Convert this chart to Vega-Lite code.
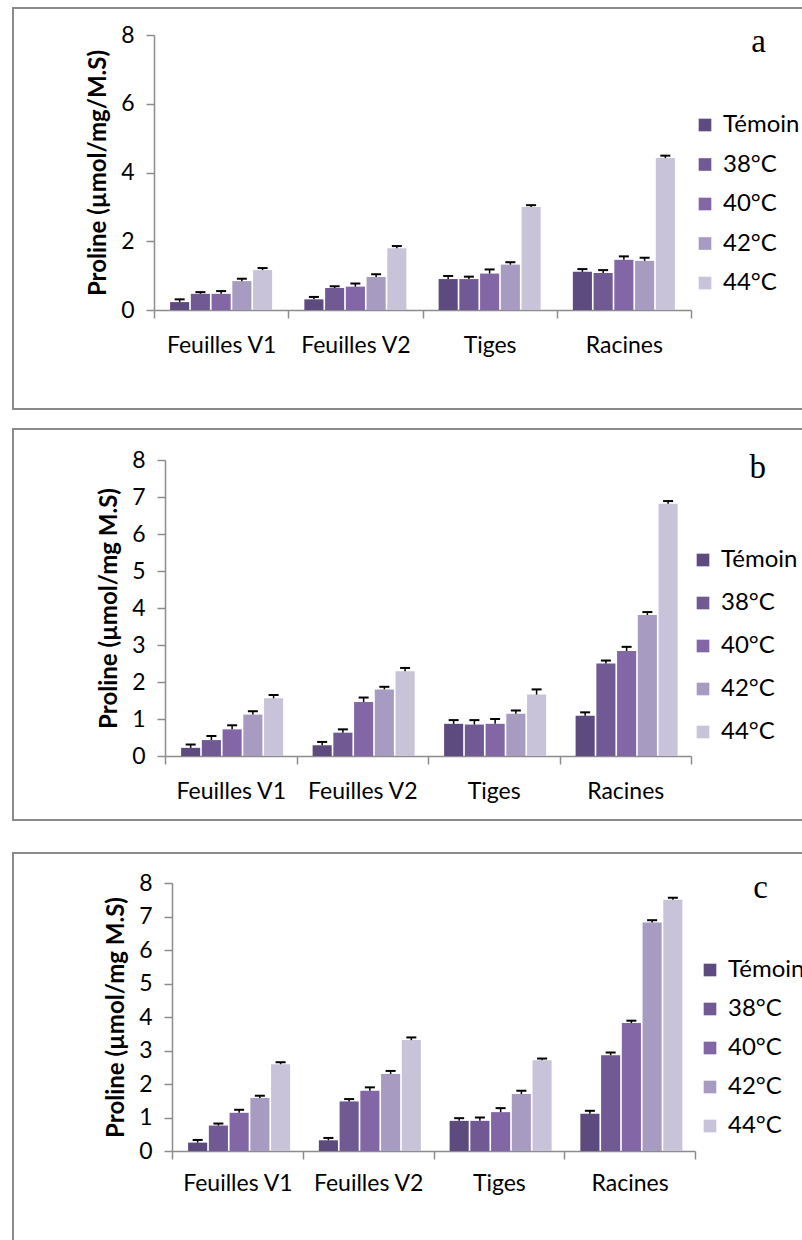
{
  "$schema": "https://vega.github.io/schema/vega-lite/v6.json",
  "padding": {"left": 12, "top": 7, "right": 0, "bottom": 0},
  "background": "white",
  "spacing": 18,
  "resolve": {"scale": {"color": "independent"}, "legend": {"color": "independent"}},
  "config": {
    "view": {"stroke": "#8a8a8a", "strokeWidth": 2},
    "font": "Lato",
    "axis": {
      "domainColor": "#8c8c8c", "domainWidth": 1.5,
      "tickColor": "#8c8c8c", "tickWidth": 1.5, "tickSize": 8,
      "labelFont": "Lato", "labelFontSize": 23, "labelColor": "black",
      "titleFont": "Lato", "titleFontSize": 24, "titleFontWeight": "bold", "titleColor": "black",
      "grid": false
    },
    "legend": {
      "orient": "none", "title": null, "symbolType": "square", "symbolSize": 160,
      "symbolStrokeWidth": 0, "labelFont": "Lato", "labelFontSize": 24, "labelColor": "black",
      "labelOffset": 6, "padding": 0
    },
    "title": {"font": "Liberation Serif", "fontSize": 33, "fontWeight": "normal", "color": "black", "anchor": "end", "frame": "group", "offset": 0, "baseline": "alphabetic"}
  },
  "datasets": {
    "a": [
      {"organ": "Feuilles V1", "temp": "Témoin", "value": 0.23, "upper": 0.31},
      {"organ": "Feuilles V1", "temp": "38°C", "value": 0.47, "upper": 0.52},
      {"organ": "Feuilles V1", "temp": "40°C", "value": 0.47, "upper": 0.55},
      {"organ": "Feuilles V1", "temp": "42°C", "value": 0.84, "upper": 0.91},
      {"organ": "Feuilles V1", "temp": "44°C", "value": 1.16, "upper": 1.22},
      {"organ": "Feuilles V2", "temp": "Témoin", "value": 0.31, "upper": 0.38},
      {"organ": "Feuilles V2", "temp": "38°C", "value": 0.64, "upper": 0.69},
      {"organ": "Feuilles V2", "temp": "40°C", "value": 0.68, "upper": 0.77},
      {"organ": "Feuilles V2", "temp": "42°C", "value": 0.96, "upper": 1.04},
      {"organ": "Feuilles V2", "temp": "44°C", "value": 1.80, "upper": 1.86},
      {"organ": "Tiges", "temp": "Témoin", "value": 0.90, "upper": 0.99},
      {"organ": "Tiges", "temp": "38°C", "value": 0.90, "upper": 0.97},
      {"organ": "Tiges", "temp": "40°C", "value": 1.06, "upper": 1.18},
      {"organ": "Tiges", "temp": "42°C", "value": 1.32, "upper": 1.39},
      {"organ": "Tiges", "temp": "44°C", "value": 3.00, "upper": 3.05},
      {"organ": "Racines", "temp": "Témoin", "value": 1.11, "upper": 1.19},
      {"organ": "Racines", "temp": "38°C", "value": 1.08, "upper": 1.16},
      {"organ": "Racines", "temp": "40°C", "value": 1.46, "upper": 1.56},
      {"organ": "Racines", "temp": "42°C", "value": 1.43, "upper": 1.52},
      {"organ": "Racines", "temp": "44°C", "value": 4.42, "upper": 4.49}
    ],
    "b": [
      {"organ": "Feuilles V1", "temp": "Témoin", "value": 0.22, "upper": 0.31},
      {"organ": "Feuilles V1", "temp": "38°C", "value": 0.43, "upper": 0.54},
      {"organ": "Feuilles V1", "temp": "40°C", "value": 0.72, "upper": 0.83},
      {"organ": "Feuilles V1", "temp": "42°C", "value": 1.12, "upper": 1.21},
      {"organ": "Feuilles V1", "temp": "44°C", "value": 1.56, "upper": 1.65},
      {"organ": "Feuilles V2", "temp": "Témoin", "value": 0.29, "upper": 0.38},
      {"organ": "Feuilles V2", "temp": "38°C", "value": 0.63, "upper": 0.72},
      {"organ": "Feuilles V2", "temp": "40°C", "value": 1.46, "upper": 1.58},
      {"organ": "Feuilles V2", "temp": "42°C", "value": 1.80, "upper": 1.87},
      {"organ": "Feuilles V2", "temp": "44°C", "value": 2.29, "upper": 2.38},
      {"organ": "Tiges", "temp": "Témoin", "value": 0.87, "upper": 0.97},
      {"organ": "Tiges", "temp": "38°C", "value": 0.85, "upper": 0.97},
      {"organ": "Tiges", "temp": "40°C", "value": 0.87, "upper": 1.00},
      {"organ": "Tiges", "temp": "42°C", "value": 1.14, "upper": 1.23},
      {"organ": "Tiges", "temp": "44°C", "value": 1.66, "upper": 1.80},
      {"organ": "Racines", "temp": "Témoin", "value": 1.09, "upper": 1.18},
      {"organ": "Racines", "temp": "38°C", "value": 2.50, "upper": 2.58},
      {"organ": "Racines", "temp": "40°C", "value": 2.84, "upper": 2.95},
      {"organ": "Racines", "temp": "42°C", "value": 3.81, "upper": 3.89},
      {"organ": "Racines", "temp": "44°C", "value": 6.82, "upper": 6.89}
    ],
    "c": [
      {"organ": "Feuilles V1", "temp": "Témoin", "value": 0.25, "upper": 0.33},
      {"organ": "Feuilles V1", "temp": "38°C", "value": 0.76, "upper": 0.82},
      {"organ": "Feuilles V1", "temp": "40°C", "value": 1.14, "upper": 1.23},
      {"organ": "Feuilles V1", "temp": "42°C", "value": 1.58, "upper": 1.65},
      {"organ": "Feuilles V1", "temp": "44°C", "value": 2.59, "upper": 2.65},
      {"organ": "Feuilles V2", "temp": "Témoin", "value": 0.32, "upper": 0.39},
      {"organ": "Feuilles V2", "temp": "38°C", "value": 1.48, "upper": 1.55},
      {"organ": "Feuilles V2", "temp": "40°C", "value": 1.80, "upper": 1.90},
      {"organ": "Feuilles V2", "temp": "42°C", "value": 2.30, "upper": 2.39},
      {"organ": "Feuilles V2", "temp": "44°C", "value": 3.31, "upper": 3.39},
      {"organ": "Tiges", "temp": "Témoin", "value": 0.90, "upper": 0.98},
      {"organ": "Tiges", "temp": "38°C", "value": 0.90, "upper": 1.00},
      {"organ": "Tiges", "temp": "40°C", "value": 1.16, "upper": 1.28},
      {"organ": "Tiges", "temp": "42°C", "value": 1.70, "upper": 1.80},
      {"organ": "Tiges", "temp": "44°C", "value": 2.71, "upper": 2.76},
      {"organ": "Racines", "temp": "Témoin", "value": 1.11, "upper": 1.20},
      {"organ": "Racines", "temp": "38°C", "value": 2.86, "upper": 2.94},
      {"organ": "Racines", "temp": "40°C", "value": 3.82, "upper": 3.89},
      {"organ": "Racines", "temp": "42°C", "value": 6.82, "upper": 6.89},
      {"organ": "Racines", "temp": "44°C", "value": 7.50, "upper": 7.56}
    ]
  },
  "vconcat": [
    {
      "width": 792, "height": 401,
      "title": {"text": "a", "dx": -39, "dy": 55},
      "data": {"name": "a"},
      "encoding": {
        "x": {"field": "organ", "type": "nominal", "sort": ["Feuilles V1", "Feuilles V2", "Tiges", "Racines"],
          "scale": {"range": [141, 678], "paddingInner": 0, "paddingOuter": 0},
          "axis": {"title": null, "offset": -99, "tickBand": "extent", "labelAngle": 0, "labelPadding": 16}},
        "xOffset": {"field": "temp", "type": "nominal", "sort": ["Témoin", "38°C", "40°C", "42°C", "44°C"],
          "scale": {"paddingInner": 0.08, "paddingOuter": 0.777}}
      },
      "layer": [
        {"mark": {"type": "bar"},
          "encoding": {
            "y": {"field": "value", "type": "quantitative", "title": "Proline (µmol/mg/M.S)",
              "scale": {"domain": [0, 8], "range": [302, 27], "nice": false},
              "axis": {"offset": -141, "values": [0, 2, 4, 6, 8], "labelPadding": 12, "titlePadding": 10}},
            "color": {"field": "temp", "type": "nominal", "sort": ["Témoin", "38°C", "40°C", "42°C", "44°C"],
              "scale": {"domain": ["Témoin", "38°C", "40°C", "42°C", "44°C"], "range": ["#5d4a7e", "#715993", "#8266a5", "#a89bc2", "#c9c3da"]},
              "legend": {"legendX": 680, "legendY": 105, "rowPadding": 15.5}}
          }},
        {"mark": {"type": "rule", "color": "black", "strokeWidth": 1.5},
          "encoding": {
            "y": {"field": "value", "type": "quantitative", "title": "Proline (µmol/mg/M.S)"},
            "y2": {"field": "upper"}
          }},
        {"mark": {"type": "tick", "orient": "horizontal", "color": "black", "thickness": 2, "size": 10, "opacity": 1},
          "encoding": {
            "y": {"field": "upper", "type": "quantitative", "title": "Proline (µmol/mg/M.S)"}
          }}
      ]
    },
    {
      "spacing": 31,
      "resolve": {"scale": {"color": "independent"}, "legend": {"color": "independent"}},
      "vconcat": [
        {
          "width": 792, "height": 391,
          "title": {"text": "b", "dx": -39, "dy": 60},
          "data": {"name": "b"},
          "encoding": {
            "x": {"field": "organ", "type": "nominal", "sort": ["Feuilles V1", "Feuilles V2", "Tiges", "Racines"],
              "scale": {"range": [152, 678], "paddingInner": 0, "paddingOuter": 0},
              "axis": {"title": null, "offset": -64, "tickBand": "extent", "labelAngle": 0, "labelPadding": 16}},
            "xOffset": {"field": "temp", "type": "nominal", "sort": ["Témoin", "38°C", "40°C", "42°C", "44°C"],
              "scale": {"paddingInner": 0.08, "paddingOuter": 0.777}}
          },
          "layer": [
            {"mark": {"type": "bar"},
              "encoding": {
                "y": {"field": "value", "type": "quantitative", "title": "Proline (µmol/mg M.S)",
                  "scale": {"domain": [0, 8], "range": [327, 31], "nice": false},
                  "axis": {"offset": -152, "values": [0, 1, 2, 3, 4, 5, 6, 7, 8], "labelPadding": 12, "titlePadding": 10}},
                "color": {"field": "temp", "type": "nominal", "sort": ["Témoin", "38°C", "40°C", "42°C", "44°C"],
                  "scale": {"domain": ["Témoin", "38°C", "40°C", "42°C", "44°C"], "range": ["#5d4a7e", "#715993", "#8266a5", "#a89bc2", "#c9c3da"]},
                  "legend": {"legendX": 678, "legendY": 119, "rowPadding": 19}}
              }},
            {"mark": {"type": "rule", "color": "black", "strokeWidth": 1.5},
              "encoding": {
                "y": {"field": "value", "type": "quantitative", "title": "Proline (µmol/mg M.S)"},
                "y2": {"field": "upper"}
              }},
            {"mark": {"type": "tick", "orient": "horizontal", "color": "black", "thickness": 2, "size": 10, "opacity": 1},
              "encoding": {
                "y": {"field": "upper", "type": "quantitative", "title": "Proline (µmol/mg M.S)"}
              }}
          ]
        },
        {
          "width": 792, "height": 400,
          "title": {"text": "c", "dx": -37, "dy": 56},
          "data": {"name": "c"},
          "encoding": {
            "x": {"field": "organ", "type": "nominal", "sort": ["Feuilles V1", "Feuilles V2", "Tiges", "Racines"],
              "scale": {"range": [159, 682], "paddingInner": 0, "paddingOuter": 0},
              "axis": {"title": null, "offset": -102, "tickBand": "extent", "labelAngle": 0, "labelPadding": 13}},
            "xOffset": {"field": "temp", "type": "nominal", "sort": ["Témoin", "38°C", "40°C", "42°C", "44°C"],
              "scale": {"paddingInner": 0.08, "paddingOuter": 0.777}}
          },
          "layer": [
            {"mark": {"type": "bar"},
              "encoding": {
                "y": {"field": "value", "type": "quantitative", "title": "Proline (µmol/mg M.S)",
                  "scale": {"domain": [0, 8], "range": [298, 30], "nice": false},
                  "axis": {"offset": -159, "values": [0, 1, 2, 3, 4, 5, 6, 7, 8], "labelPadding": 12, "titlePadding": 10}},
                "color": {"field": "temp", "type": "nominal", "sort": ["Témoin", "38°C", "40°C", "42°C", "44°C"],
                  "scale": {"domain": ["Témoin", "38°C", "40°C", "42°C", "44°C"], "range": ["#5d4a7e", "#715993", "#8266a5", "#a89bc2", "#c9c3da"]},
                  "legend": {"legendX": 685, "legendY": 105, "rowPadding": 15}}
              }},
            {"mark": {"type": "rule", "color": "black", "strokeWidth": 1.5},
              "encoding": {
                "y": {"field": "value", "type": "quantitative", "title": "Proline (µmol/mg M.S)"},
                "y2": {"field": "upper"}
              }},
            {"mark": {"type": "tick", "orient": "horizontal", "color": "black", "thickness": 2, "size": 10, "opacity": 1},
              "encoding": {
                "y": {"field": "upper", "type": "quantitative", "title": "Proline (µmol/mg M.S)"}
              }}
          ]
        }
      ]
    }
  ]
}
